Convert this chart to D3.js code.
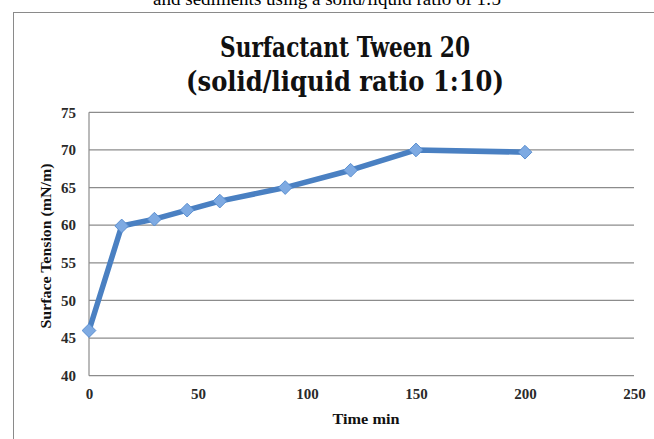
<!DOCTYPE html>
<html>
<head>
<meta charset="utf-8">
<script src="https://cdn.jsdelivr.net/npm/d3@7"></script>
<style>
  body { margin: 0; background: #fff; }
  svg { display: block; }
</style>
</head>
<body>
<div id="chart"></div>
<script>
'use strict';

// data
var times = [0, 15, 30, 45, 60, 90, 120, 150, 200];
var tension = [46.0, 59.9, 60.8, 62.0, 63.2, 65.0, 67.3, 70.0, 69.7];
var xTicks = [0, 50, 100, 150, 200, 250];
var yTicks = [40, 45, 50, 55, 60, 65, 70, 75];

var width = 654, height = 439;
var plotLeft = 89, plotRight = 634, plotTop = 112.3, plotBottom = 375.7;

var svg = d3.select("#chart").append("svg")
	.attr("width", width)
	.attr("height", height);

// caption of the page, cut off at the top
svg.append("text")
	.attr("x", 327)
	.attr("y", 5)
	.attr("text-anchor", "middle")
	.attr("font-family", "Liberation Serif")
	.attr("font-size", 19)
	.text("and sediments using a solid/liquid ratio of 1:5");

// chart frame
svg.append("rect")
	.attr("x", 13.5)
	.attr("y", 12.5)
	.attr("width", 700)
	.attr("height", 500)
	.attr("fill", "none")
	.attr("stroke", "#8a8a8a")
	.attr("stroke-width", 1);

var x = d3.scaleLinear().domain([0, 250]).range([plotLeft, plotRight]);
var y = d3.scaleLinear().domain([40, 75]).range([plotBottom, plotTop]);

// gridlines
svg.append("g")
	.selectAll("line")
	.data(yTicks)
	.enter()
	.append("line")
	.attr("x1", plotLeft)
	.attr("x2", plotRight)
	.attr("y1", function (d) { return y(d); })
	.attr("y2", function (d) { return y(d); })
	.attr("stroke", "#8c8c8c")
	.attr("stroke-width", 1.2);

svg.append("line")
	.attr("x1", plotLeft).attr("x2", plotLeft)
	.attr("y1", plotTop).attr("y2", plotBottom)
	.attr("stroke", "#8c8c8c")
	.attr("stroke-width", 1.2);

// axes, only the labels are kept
var yAxis = svg.append("g")
	.attr("transform", "translate(" + plotLeft + ",0)")
	.call(d3.axisLeft(y).tickValues(yTicks).tickSize(0).tickPadding(13));

var xAxis = svg.append("g")
	.attr("transform", "translate(0," + plotBottom + ")")
	.call(d3.axisBottom(x).tickValues(xTicks).tickSize(0).tickPadding(13));

[yAxis, xAxis].forEach(function (g) {
	g.select(".domain").remove();
	g.selectAll("text")
		.attr("font-family", "Liberation Serif")
		.attr("font-weight", "bold")
		.attr("font-size", 15)
		.attr("fill", "#2a2a2a");
});

// axis titles
svg.append("text")
	.attr("transform", "translate(51,246) rotate(-90)")
	.attr("text-anchor", "middle")
	.attr("font-family", "Liberation Serif")
	.attr("font-weight", "bold")
	.attr("font-size", 14)
	.attr("textLength", 165)
	.attr("lengthAdjust", "spacingAndGlyphs")
	.attr("fill", "#111")
	.text("Surface Tension (mN/m)");

svg.append("text")
	.attr("x", 366)
	.attr("y", 424)
	.attr("text-anchor", "middle")
	.attr("font-family", "Liberation Serif")
	.attr("font-weight", "bold")
	.attr("font-size", 15)
	.attr("textLength", 67)
	.attr("lengthAdjust", "spacingAndGlyphs")
	.attr("fill", "#111")
	.text("Time min");

// title
var title = svg.append("text")
	.attr("text-anchor", "middle")
	.attr("font-family", "DejaVu Serif")
	.attr("font-weight", "bold")
	.attr("font-size", 27)
	.attr("lengthAdjust", "spacingAndGlyphs")
	.attr("fill", "#111");
title.append("tspan").attr("x", 345).attr("y", 57)
	.attr("textLength", 250).attr("lengthAdjust", "spacingAndGlyphs")
	.text("Surfactant Tween 20");
title.append("tspan").attr("x", 345).attr("y", 91)
	.attr("textLength", 318).attr("lengthAdjust", "spacingAndGlyphs")
	.text("(solid/liquid ratio 1:10)");

// series
var pts = times.map(function (t, i) { return [t, tension[i]]; });

var line = d3.line()
	.x(function (d) { return x(d[0]); })
	.y(function (d) { return y(d[1]); });

svg.append("path")
	.datum(pts)
	.attr("d", line)
	.attr("fill", "none")
	.attr("stroke", "#4a80c2")
	.attr("stroke-width", 5.5)
	.attr("stroke-linejoin", "round");

svg.append("g")
	.selectAll("path")
	.data(pts)
	.enter()
	.append("path")
	.attr("transform", function (d) {
		return "translate(" + x(d[0]) + "," + y(d[1]) + ")";
	})
	.attr("d", d3.symbol().type(d3.symbolDiamond2).size(120))
	.attr("fill", "#7eaae2")
	.attr("stroke", "#5b8fd0")
	.attr("stroke-width", 1);
</script>
</body>
</html>
